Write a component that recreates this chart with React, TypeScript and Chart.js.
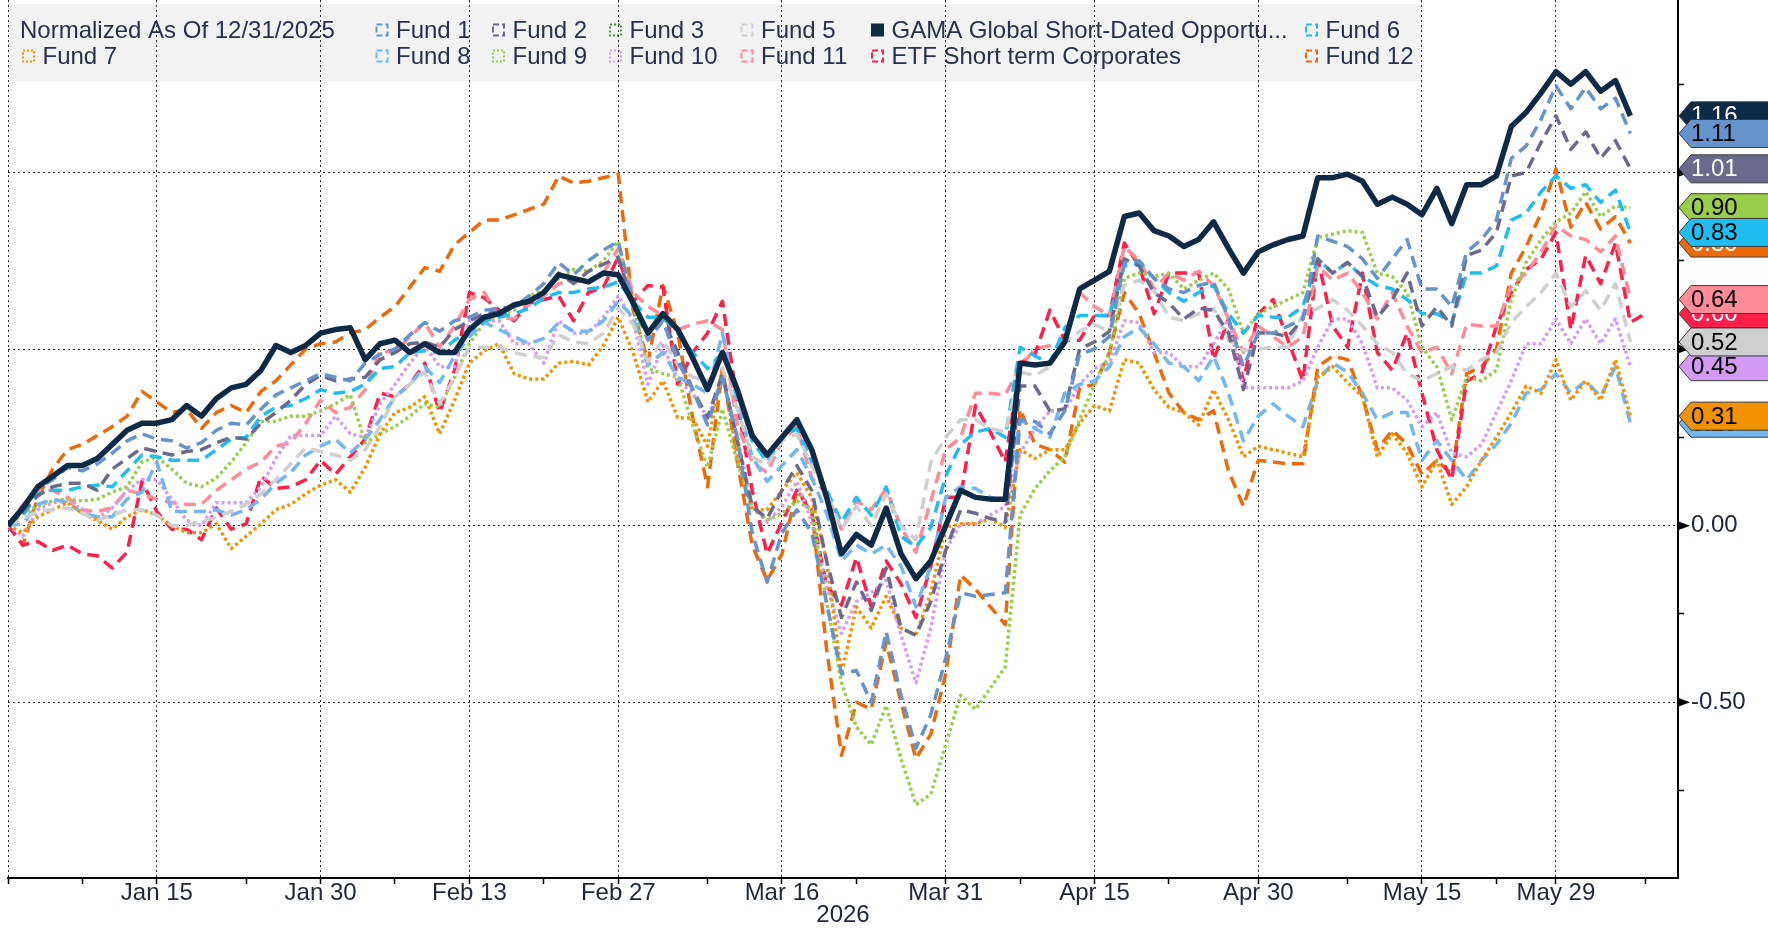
import React, { useEffect, useRef } from 'react';
import { Chart, registerables } from 'chart.js';

Chart.register(...registerables);

const FONT = "'Liberation Sans', Arial, 'DejaVu Sans', sans-serif";
const TEXT = '#1e2638';

// ---- axis tick data ----
const xMajorTicks = [10, 21, 31, 41, 52, 63, 73, 84, 95, 104];
const xMajorLabels = ['Jan 15', 'Jan 30', 'Feb 13', 'Feb 27', 'Mar 16', 'Mar 31', 'Apr 15', 'Apr 30', 'May 15', 'May 29'];
const xMinorTicks = [0, 5, 16, 26, 36, 47, 57, 68, 78, 90, 100, 110];
const yTicks = [-0.75, -0.5, -0.25, 0, 0.25, 0.5, 0.75, 1.0, 1.25];
const yearLabel = '2026';
const legendTitle = 'Normalized As Of 12/31/2025';

// ---- series values (trading-day index 0 = 12/31/2025) ----
const gama = [0, 0.05, 0.11, 0.14, 0.17, 0.17, 0.19, 0.23, 0.27, 0.29,
  0.29, 0.30, 0.34, 0.31, 0.36, 0.39, 0.40, 0.44, 0.51, 0.49,
  0.51, 0.545, 0.555, 0.56, 0.47, 0.515, 0.525, 0.49, 0.515, 0.49,
  0.49, 0.555, 0.59, 0.60, 0.625, 0.635, 0.66, 0.71, 0.70, 0.69,
  0.715, 0.71, 0.63, 0.545, 0.60, 0.555, 0.475, 0.385, 0.49, 0.385,
  0.255, 0.20, 0.25, 0.30, 0.215, 0.08, -0.08, -0.025, -0.055, 0.05,
  -0.08, -0.15, -0.10, 0.00, 0.10, 0.08, 0.075, 0.075, 0.46, 0.455,
  0.46, 0.52, 0.67, 0.695, 0.72, 0.875, 0.885, 0.835, 0.82, 0.79,
  0.81, 0.86, 0.785, 0.715, 0.775, 0.795, 0.81, 0.82, 0.985, 0.985,
  0.995, 0.975, 0.91, 0.93, 0.91, 0.88, 0.955, 0.855, 0.965, 0.965,
  0.99, 1.13, 1.17, 1.225, 1.285, 1.25, 1.285, 1.23, 1.26, 1.16];

const fund1 = [0, 0.05, 0.105, 0.13, 0.165, 0.155, 0.175, 0.205, 0.24, 0.26,
  0.245, 0.24, 0.22, 0.235, 0.27, 0.29, 0.285, 0.33, 0.37, 0.39,
  0.41, 0.43, 0.42, 0.41, 0.46, 0.485, 0.50, 0.54, 0.575, 0.55,
  0.58, 0.59, 0.61, 0.615, 0.62, 0.65, 0.685, 0.745, 0.71, 0.75,
  0.78, 0.805, 0.625, 0.525, 0.58, 0.465, 0.385, 0.285, 0.42, 0.25,
  -0.02, -0.16, -0.02, 0.045, -0.02, -0.22, -0.42, -0.41, -0.50, -0.30,
  -0.48, -0.63, -0.535, -0.375, -0.19, -0.20, -0.195, -0.19, 0.30, 0.295,
  0.26, 0.325, 0.485, 0.50, 0.535, 0.745, 0.75, 0.70, 0.67, 0.66,
  0.68, 0.69, 0.585, 0.45, 0.545, 0.545, 0.565, 0.585, 0.82, 0.805,
  0.79, 0.755, 0.70, 0.755, 0.81, 0.67, 0.67, 0.62, 0.775, 0.81,
  0.865, 1.04, 1.075, 1.15, 1.245, 1.18, 1.24, 1.18, 1.21, 1.11];

const fund2 = [0, 0.04, 0.085, 0.11, 0.12, 0.12, 0.10, 0.16, 0.19, 0.22,
  0.21, 0.20, 0.21, 0.215, 0.235, 0.25, 0.245, 0.29, 0.32, 0.355,
  0.40, 0.425, 0.41, 0.415, 0.42, 0.47, 0.49, 0.515, 0.52, 0.505,
  0.555, 0.58, 0.60, 0.605, 0.62, 0.635, 0.66, 0.715, 0.685, 0.72,
  0.74, 0.76, 0.625, 0.545, 0.585, 0.49, 0.385, 0.305, 0.43, 0.24,
  0.055, 0.02, 0.10, 0.17, 0.10, -0.10, -0.26, -0.16, -0.24, -0.12,
  -0.29, -0.31, -0.215, -0.07, 0.045, 0.035, 0.02, 0.01, 0.395, 0.395,
  0.325, 0.33, 0.50, 0.52, 0.55, 0.755, 0.735, 0.66, 0.63, 0.585,
  0.615, 0.61, 0.545, 0.385, 0.545, 0.545, 0.535, 0.585, 0.755, 0.715,
  0.745, 0.705, 0.59, 0.64, 0.715, 0.565, 0.62, 0.565, 0.765, 0.78,
  0.83, 0.99, 1.00, 1.085, 1.16, 1.065, 1.115, 1.04, 1.09, 1.01];

const fund3: number[] = [];

const fund5 = [0, 0.02, 0.04, 0.045, 0.05, 0.035, 0.015, 0.03, 0.045, 0.045,
  0.03, 0.0, 0.0, 0.01, 0.025, 0.04, 0.06, 0.09, 0.13, 0.175,
  0.22, 0.21, 0.20, 0.185, 0.215, 0.28, 0.365, 0.40, 0.435, 0.345,
  0.42, 0.505, 0.505, 0.505, 0.49, 0.48, 0.475, 0.54, 0.52, 0.515,
  0.545, 0.615, 0.57, 0.465, 0.525, 0.455, 0.42, 0.41, 0.445, 0.33,
  0.195, 0.17, 0.24, 0.26, 0.17, 0.09, -0.01, 0.055, 0.0, 0.09,
  0.0, -0.04, 0.18, 0.25, 0.30, 0.30, 0.275, 0.265, 0.435, 0.425,
  0.45, 0.52, 0.55, 0.57, 0.55, 0.68, 0.695, 0.665, 0.59, 0.58,
  0.60, 0.615, 0.525, 0.495, 0.50, 0.505, 0.505, 0.60, 0.615, 0.64,
  0.61, 0.565, 0.515, 0.49, 0.43, 0.41, 0.43, 0.45, 0.44, 0.47,
  0.49, 0.575, 0.62, 0.66, 0.715, 0.62, 0.665, 0.61, 0.685, 0.52];

const fund6 = [0, 0.03, 0.09, 0.10, 0.10, 0.11, 0.115, 0.11, 0.155, 0.20,
  0.195, 0.185, 0.185, 0.185, 0.215, 0.245, 0.25, 0.31, 0.335, 0.34,
  0.36, 0.385, 0.375, 0.38, 0.40, 0.445, 0.45, 0.49, 0.495, 0.49,
  0.525, 0.55, 0.58, 0.59, 0.60, 0.615, 0.645, 0.66, 0.66, 0.67,
  0.675, 0.69, 0.635, 0.59, 0.59, 0.545, 0.49, 0.445, 0.49, 0.375,
  0.24, 0.18, 0.25, 0.275, 0.18, 0.10, 0.01, 0.08, 0.03, 0.11,
  -0.03, -0.06, -0.005, 0.14, 0.23, 0.265, 0.275, 0.25, 0.505, 0.48,
  0.46, 0.56, 0.595, 0.595, 0.595, 0.735, 0.745, 0.70, 0.66, 0.635,
  0.66, 0.68, 0.60, 0.545, 0.595, 0.59, 0.59, 0.62, 0.755, 0.715,
  0.745, 0.705, 0.68, 0.67, 0.64, 0.60, 0.60, 0.575, 0.715, 0.715,
  0.735, 0.865, 0.885, 0.945, 0.99, 0.955, 0.965, 0.915, 0.95, 0.83];

const fund7 = [0, -0.02, 0.025, 0.045, 0.065, 0.035, 0.015, -0.01, 0.025, 0.045,
  0.03, 0.0, -0.02, -0.02, 0.005, -0.065, -0.03, 0.005, 0.045, 0.06,
  0.09, 0.115, 0.13, 0.095, 0.165, 0.26, 0.32, 0.335, 0.365, 0.26,
  0.355, 0.46, 0.495, 0.515, 0.43, 0.415, 0.415, 0.46, 0.465, 0.455,
  0.51, 0.59, 0.49, 0.35, 0.41, 0.305, 0.305, 0.225, 0.445, 0.195,
  0.045, 0.045, 0.10, 0.15, 0.08, -0.10, -0.42, -0.23, -0.29, -0.20,
  -0.29, -0.31, -0.19, -0.005, 0.005, 0.005, 0.02, -0.005, 0.215, 0.19,
  0.215, 0.215, 0.29, 0.34, 0.325, 0.47, 0.46, 0.385, 0.335, 0.32,
  0.285, 0.385, 0.30, 0.195, 0.225, 0.215, 0.205, 0.195, 0.42, 0.45,
  0.405, 0.365, 0.195, 0.26, 0.205, 0.11, 0.185, 0.06, 0.11, 0.185,
  0.25, 0.32, 0.395, 0.375, 0.47, 0.355, 0.41, 0.355, 0.47, 0.31];

const fund8 = [0, 0.005, 0.06, 0.075, 0.065, 0.035, 0.025, 0.025, 0.075, 0.095,
  0.18, 0.04, 0.04, 0.04, 0.045, 0.03, 0.045, 0.075, 0.12, 0.15,
  0.20, 0.225, 0.245, 0.205, 0.245, 0.30, 0.365, 0.40, 0.45, 0.405,
  0.48, 0.535, 0.575, 0.555, 0.535, 0.515, 0.53, 0.575, 0.55, 0.55,
  0.58, 0.635, 0.59, 0.455, 0.49, 0.42, 0.40, 0.375, 0.545, 0.35,
  0.195, 0.125, 0.17, 0.215, 0.135, 0.035, -0.10, -0.055, -0.08, -0.055,
  -0.115, -0.23, -0.115, 0.08, 0.11, 0.105, 0.08, 0.07, 0.30, 0.275,
  0.25, 0.375, 0.40, 0.41, 0.45, 0.535, 0.56, 0.515, 0.46, 0.45,
  0.41, 0.48, 0.375, 0.24, 0.31, 0.345, 0.31, 0.28, 0.41, 0.46,
  0.435, 0.375, 0.30, 0.32, 0.32, 0.185, 0.24, 0.185, 0.13, 0.185,
  0.23, 0.29, 0.375, 0.385, 0.43, 0.375, 0.41, 0.365, 0.45, 0.29];

const fund9 = [0, 0.035, 0.055, 0.07, 0.075, 0.07, 0.075, 0.095, 0.11, 0.18,
  0.195, 0.16, 0.12, 0.11, 0.135, 0.18, 0.235, 0.295, 0.295, 0.31,
  0.31, 0.325, 0.345, 0.37, 0.235, 0.26, 0.28, 0.31, 0.345, 0.335,
  0.42, 0.515, 0.575, 0.60, 0.61, 0.65, 0.665, 0.70, 0.725, 0.72,
  0.75, 0.805, 0.625, 0.445, 0.43, 0.42, 0.285, 0.165, 0.33, 0.18,
  0.055, 0.015, 0.035, 0.07, 0.045, -0.215, -0.445, -0.57, -0.62, -0.51,
  -0.66, -0.79, -0.76, -0.62, -0.48, -0.52, -0.46, -0.40, 0.03, 0.105,
  0.155, 0.195, 0.30, 0.40, 0.485, 0.70, 0.715, 0.705, 0.715, 0.67,
  0.695, 0.715, 0.67, 0.545, 0.60, 0.62, 0.64, 0.66, 0.815, 0.825,
  0.835, 0.83, 0.715, 0.705, 0.66, 0.505, 0.45, 0.30, 0.42, 0.41,
  0.44, 0.64, 0.745, 0.81, 0.86, 0.885, 0.945, 0.875, 0.905, 0.90];

const fund10 = [0, -0.03, 0.045, 0.065, 0.07, 0.045, 0.02, 0.05, 0.10, 0.13,
  0.13, 0.075, 0.015, 0.0, 0.065, 0.065, 0.065, 0.11, 0.19, 0.255,
  0.255, 0.255, 0.31, 0.26, 0.25, 0.345, 0.40, 0.46, 0.51, 0.45,
  0.45, 0.58, 0.58, 0.58, 0.515, 0.515, 0.46, 0.58, 0.545, 0.545,
  0.59, 0.65, 0.58, 0.40, 0.51, 0.41, 0.375, 0.305, 0.42, 0.25,
  0.055, 0.01, 0.055, 0.125, 0.01, -0.17, -0.305, -0.215, -0.19, -0.155,
  -0.31, -0.445, -0.29, -0.07, 0.005, 0.005, 0.03, 0.055, 0.205, 0.275,
  0.325, 0.325, 0.40, 0.445, 0.46, 0.58, 0.575, 0.49, 0.49, 0.45,
  0.45, 0.515, 0.585, 0.39, 0.39, 0.39, 0.39, 0.41, 0.505, 0.585,
  0.585, 0.515, 0.39, 0.39, 0.355, 0.28, 0.32, 0.205, 0.195, 0.23,
  0.32, 0.41, 0.515, 0.515, 0.585, 0.515, 0.585, 0.515, 0.585, 0.45];

const fund11 = [0, 0.06, 0.10, 0.10, 0.08, 0.045, 0.04, 0.05, 0.10, 0.09,
  0.075, 0.065, 0.06, 0.06, 0.10, 0.13, 0.16, 0.18, 0.225, 0.235,
  0.29, 0.355, 0.32, 0.335, 0.385, 0.495, 0.49, 0.535, 0.575, 0.505,
  0.565, 0.64, 0.66, 0.59, 0.585, 0.625, 0.65, 0.685, 0.695, 0.69,
  0.715, 0.785, 0.66, 0.62, 0.595, 0.555, 0.57, 0.58, 0.555, 0.285,
  0.18, 0.15, 0.24, 0.28, 0.135, 0.09, -0.01, 0.07, 0.045, 0.105,
  -0.005, -0.075, 0.07, 0.215, 0.25, 0.375, 0.375, 0.37, 0.45, 0.50,
  0.51, 0.525, 0.66, 0.62, 0.595, 0.79, 0.75, 0.67, 0.715, 0.695,
  0.72, 0.68, 0.585, 0.49, 0.565, 0.535, 0.505, 0.535, 0.735, 0.695,
  0.715, 0.66, 0.585, 0.66, 0.565, 0.49, 0.505, 0.43, 0.57, 0.565,
  0.565, 0.68, 0.715, 0.775, 0.85, 0.82, 0.81, 0.775, 0.82, 0.64];

const etf = [0, -0.055, -0.045, -0.07, -0.055, -0.08, -0.085, -0.12, -0.075, 0.125,
  0.04, -0.01, -0.01, -0.04, 0.05, -0.01, 0.005, 0.14, 0.105, 0.11,
  0.13, 0.185, 0.145, 0.195, 0.245, 0.375, 0.365, 0.40, 0.46, 0.32,
  0.44, 0.66, 0.645, 0.61, 0.58, 0.63, 0.64, 0.65, 0.58, 0.66,
  0.675, 0.76, 0.635, 0.68, 0.675, 0.40, 0.49, 0.545, 0.635, 0.35,
  0.10, -0.08, 0.01, 0.10, 0.035, -0.17, -0.225, -0.09, -0.23, -0.10,
  -0.165, -0.26, -0.115, 0.08, 0.08, 0.34, 0.265, 0.18, 0.46, 0.485,
  0.61, 0.525, 0.525, 0.595, 0.595, 0.80, 0.735, 0.60, 0.715, 0.715,
  0.715, 0.47, 0.585, 0.41, 0.60, 0.64, 0.525, 0.41, 0.755, 0.565,
  0.505, 0.715, 0.49, 0.44, 0.545, 0.375, 0.215, 0.13, 0.41, 0.43,
  0.565, 0.66, 0.725, 0.755, 0.83, 0.555, 0.765, 0.685, 0.80, 0.575,
  0.60];

const fund12 = [0, -0.055, 0.08, 0.16, 0.215, 0.23, 0.255, 0.28, 0.31, 0.38,
  0.35, 0.32, 0.33, 0.275, 0.32, 0.34, 0.32, 0.38, 0.41, 0.455,
  0.50, 0.515, 0.52, 0.545, 0.555, 0.59, 0.62, 0.675, 0.73, 0.72,
  0.795, 0.83, 0.865, 0.865, 0.88, 0.895, 0.91, 0.99, 0.97, 0.975,
  0.985, 0.995, 0.61, 0.465, 0.68, 0.545, 0.305, 0.11, 0.445, 0.18,
  -0.055, -0.155, -0.08, 0.10, 0.045, -0.35, -0.65, -0.50, -0.52, -0.33,
  -0.50, -0.66, -0.59, -0.42, -0.14, -0.18, -0.23, -0.28, 0.33, 0.23,
  0.215, 0.18, 0.39, 0.40, 0.49, 0.66, 0.60, 0.49, 0.375, 0.32,
  0.30, 0.325, 0.155, 0.055, 0.185, 0.18, 0.175, 0.175, 0.45, 0.48,
  0.47, 0.365, 0.215, 0.27, 0.23, 0.145, 0.185, 0.145, 0.43, 0.45,
  0.50, 0.715, 0.79, 0.885, 1.01, 0.845, 0.915, 0.84, 0.875, 0.80];

type LineStyle = 'solid' | 'dashed' | 'dotted';
interface Series { name: string; data: number[]; color: string; style: LineStyle; labelText: string; }

const series: Series[] = [
  { name: 'Fund 1', data: fund1, color: '#6693cc', style: 'dashed', labelText: '#000' },
  { name: 'Fund 2', data: fund2, color: '#6b6a8c', style: 'dashed', labelText: '#fff' },
  { name: 'Fund 3', data: fund3, color: '#3f9b47', style: 'dotted', labelText: '#000' },
  { name: 'Fund 5', data: fund5, color: '#cfcfcf', style: 'dashed', labelText: '#000' },
  { name: 'GAMA Global Short-Dated Opportu...', data: gama, color: '#0e2a47', style: 'solid', labelText: '#fff' },
  { name: 'Fund 6', data: fund6, color: '#1fbdf0', style: 'dashed', labelText: '#000' },
  { name: 'Fund 7', data: fund7, color: '#f39200', style: 'dotted', labelText: '#000' },
  { name: 'Fund 8', data: fund8, color: '#72b6f2', style: 'dashed', labelText: '#000' },
  { name: 'Fund 9', data: fund9, color: '#9acd4a', style: 'dotted', labelText: '#000' },
  { name: 'Fund 10', data: fund10, color: '#d49af5', style: 'dotted', labelText: '#000' },
  { name: 'Fund 11', data: fund11, color: '#ff8b99', style: 'dashed', labelText: '#000' },
  { name: 'ETF Short term Corporates', data: etf, color: '#ff1f4b', style: 'dashed', labelText: '#fff' },
  { name: 'Fund 12', data: fund12, color: '#ec6a0c', style: 'dashed', labelText: '#fff' },
];

// legend layout (series index, icon x, row)
const legendSlots = [
  { i: 0, x: 375.5, row: 0 }, { i: 1, x: 492, row: 0 }, { i: 2, x: 609, row: 0 },
  { i: 3, x: 740.5, row: 0 }, { i: 4, x: 871, row: 0 }, { i: 5, x: 1305, row: 0 },
  { i: 6, x: 22, row: 1 }, { i: 7, x: 375.5, row: 1 }, { i: 8, x: 492, row: 1 },
  { i: 9, x: 609, row: 1 }, { i: 10, x: 740.5, row: 1 }, { i: 11, x: 871, row: 1 },
  { i: 12, x: 1305, row: 1 },
];
const ROW_Y = [31, 57];

const dashFor = (s: LineStyle) => (s === 'solid' ? [] : s === 'dashed' ? [12, 7] : [3, 3]);
const isMajorY = (v: number) => Math.abs(v * 2 - Math.round(v * 2)) < 1e-6;
const isMajorX = (v: number) => v === 0 || xMajorTicks.includes(v);

const legendPlugin = {
  id: 'bbgLegend',
  beforeDraw(chart: any) {
    const ctx = chart.ctx;
    ctx.save();
    ctx.fillStyle = '#f2f2f2';
    ctx.fillRect(8, 4, 1416, 77);
    ctx.font = `24px ${FONT}`;
    ctx.textBaseline = 'middle';
    ctx.textAlign = 'left';
    ctx.fillStyle = '#27314d';
    ctx.fillText(legendTitle, 20, ROW_Y[0]);
    legendSlots.forEach((slot) => {
      const s = series[slot.i];
      const cy = ROW_Y[slot.row] - 1;
      ctx.save();
      if (s.style === 'solid') {
        ctx.fillStyle = s.color;
        ctx.fillRect(slot.x, cy - 6.5, 13, 13);
      } else {
        ctx.strokeStyle = s.color;
        ctx.lineWidth = 2;
        ctx.setLineDash(s.style === 'dashed' ? [6, 3] : [2, 2]);
        ctx.strokeRect(slot.x + 1, cy - 5.5, 11, 11);
      }
      ctx.restore();
      ctx.fillStyle = '#27314d';
      ctx.fillText(s.name, slot.x + 20.5, ROW_Y[slot.row]);
    });
    ctx.restore();
  },
};

const valueLabelPlugin = {
  id: 'valueLabels',
  afterDraw(chart: any) {
    const ctx = chart.ctx;
    const ys = chart.scales.y;
    const area = chart.chartArea;
    ctx.save();
    ctx.fillStyle = '#000';
    yTicks.filter(isMajorY).forEach((v) => {
      const py = ys.getPixelForValue(v);
      ctx.beginPath();
      ctx.moveTo(area.right, py - 4.5);
      ctx.lineTo(area.right + 12, py);
      ctx.lineTo(area.right, py + 4.5);
      ctx.closePath();
      ctx.fill();
    });
    ctx.font = `24px ${FONT}`;
    ctx.textBaseline = 'middle';
    ctx.textAlign = 'left';
    for (let k = series.length - 1; k >= 0; k--) {
      const s = series[k];
      if (!s.data.length) continue;
      const v = s.data[s.data.length - 1];
      const py = ys.getPixelForValue(v);
      const x0 = area.right + 1;
      const xb = x0 + 12;
      const h = 14;
      ctx.beginPath();
      ctx.moveTo(x0, py);
      ctx.lineTo(xb, py - h);
      ctx.lineTo(chart.width + 2, py - h);
      ctx.lineTo(chart.width + 2, py + h);
      ctx.lineTo(xb, py + h);
      ctx.closePath();
      ctx.fillStyle = s.color;
      ctx.fill();
      ctx.strokeStyle = '#3a3a3a';
      ctx.lineWidth = 1;
      ctx.stroke();
      ctx.fillStyle = s.labelText;
      ctx.fillText(v.toFixed(2), xb, py + 1);
    }
    ctx.restore();
  },
};

export default function App() {
  const ref = useRef<HTMLCanvasElement | null>(null);

  useEffect(() => {
    document.body.style.margin = '0';
    if (!ref.current) return;
    const datasets = series.map((s) => ({
      label: s.name,
      data: s.data.map((v, i) => ({ x: i, y: v })),
      borderColor: s.color,
      backgroundColor: s.color,
      borderWidth: s.style === 'solid' ? 5.5 : 3.5,
      borderDash: dashFor(s.style),
      borderCapStyle: 'butt' as const,
      borderJoinStyle: 'round' as const,
      pointRadius: 0,
      pointHoverRadius: 0,
      tension: 0,
      fill: false,
      order: s.style === 'solid' ? -1 : 0,
    }));
    const allXTicks = [...xMinorTicks, ...xMajorTicks].sort((a, b) => a - b);
    const chart = new Chart(ref.current, {
      type: 'line',
      data: { datasets },
      options: {
        animation: false,
        responsive: false,
        devicePixelRatio: 1,
        parsing: true,
        layout: { padding: { left: 8, top: 0, right: 0, bottom: 0 } },
        plugins: { legend: { display: false }, tooltip: { enabled: false } },
        scales: {
          x: {
            type: 'linear',
            position: 'bottom',
            min: 0,
            max: 112.2,
            afterBuildTicks: (s: any) => { s.ticks = allXTicks.map((v) => ({ value: v })); },
            afterFit: (s: any) => { s.height = 59; s.paddingLeft = 0; s.paddingRight = 0; },
            ticks: {
              autoSkip: false,
              maxRotation: 0,
              minRotation: 0,
              padding: -5,
              color: TEXT,
              font: { family: FONT, size: 24, lineHeight: 1.2 },
              callback: (v: any) => {
                const k = xMajorTicks.indexOf(Number(v));
                return k >= 0 ? xMajorLabels[k] : '';
              },
            },
            grid: {
              color: (c: any) => (c.tick && isMajorX(c.tick.value) ? '#2a2a2a' : 'rgba(0,0,0,0)'),
              lineWidth: 1,
              drawTicks: true,
              tickLength: 6,
              tickColor: '#000',
              tickWidth: 1.5,
              tickBorderDash: [],
            },
            border: { display: true, color: '#000', width: 2, dash: [2, 3] },
            title: {
              display: true,
              text: yearLabel,
              color: TEXT,
              font: { family: FONT, size: 24, lineHeight: 1.2 },
              padding: { top: 0, bottom: 7 },
            },
          },
          y: {
            type: 'linear',
            position: 'right',
            min: -0.9975,
            max: 1.488,
            afterBuildTicks: (s: any) => { s.ticks = yTicks.map((v) => ({ value: v })); },
            afterFit: (s: any) => { s.width = 90; s.paddingTop = 0; s.paddingBottom = 0; },
            ticks: {
              padding: 7,
              color: TEXT,
              font: { family: FONT, size: 24, lineHeight: 1.2 },
              callback: (v: any) => (isMajorY(Number(v)) ? Number(v).toFixed(2) : ''),
            },
            grid: {
              color: (c: any) => (c.tick && isMajorY(c.tick.value) ? '#2a2a2a' : 'rgba(0,0,0,0)'),
              lineWidth: 1,
              drawTicks: true,
              tickLength: 6,
              tickColor: '#000',
              tickWidth: 1.5,
              tickBorderDash: [],
            },
            border: { display: true, color: '#000', width: 2, dash: [2, 3] },
          },
        },
      },
      plugins: [legendPlugin, valueLabelPlugin],
    } as any);
    return () => chart.destroy();
  }, []);

  return (
    <div style={{ width: 1768, height: 937, position: 'relative', background: '#fff' }}>
      <canvas ref={ref} width={1768} height={937} style={{ display: 'block' }} />
    </div>
  );
}
